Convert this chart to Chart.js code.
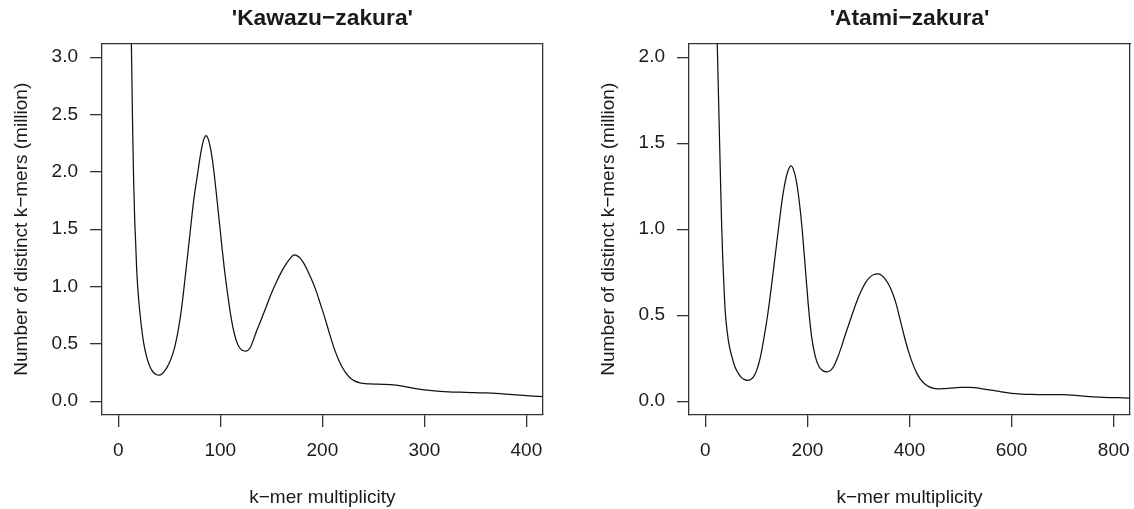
<!DOCTYPE html>
<html><head><meta charset="utf-8">
<script src="https://cdn.jsdelivr.net/npm/chart.js@4"></script>
<style>
html,body{margin:0;padding:0;background:#fff;width:1134px;height:509px;overflow:hidden}
.p{position:absolute;top:0;width:567px;height:509px}
</style></head>
<body>
<div class="p" style="left:0"><canvas id="c1" width="567" height="509"></canvas></div>
<div class="p" style="left:567px"><canvas id="c2" width="567" height="509"></canvas></div>
<script>
// 'Kawazu-zakura' k-mer spectrum (values in million)
const kawazuX = [12,13,14,15,16,17,18,19,20,22,25,28,31,34,37,40,43,46,48,50,52,54,56,58,60,62,64,66,68,70,74,78,80,82,84,86,88,90,92,94,96,98,100,102,104,106,108,110,112,114,116,118,120,122,125,128,130,132,135,140,145,150,155,160,165,169,172,175,178,182,186,190,194,198,202,207,212,217,222,227,232,237,242,250,260,270,280,290,300,310,320,330,340,350,360,370,380,390,400,410,416];
const kawazuY = [3.6,3.0,2.4,1.93,1.6,1.38,1.15,1.0,0.88,0.7,0.5,0.38,0.3,0.255,0.233,0.227,0.24,0.272,0.3,0.335,0.378,0.43,0.5,0.585,0.69,0.81,0.96,1.12,1.28,1.44,1.76,2.0,2.12,2.22,2.29,2.316,2.29,2.22,2.12,1.98,1.82,1.65,1.48,1.31,1.15,1.01,0.88,0.76,0.66,0.58,0.52,0.48,0.455,0.442,0.437,0.452,0.48,0.525,0.6,0.71,0.825,0.94,1.04,1.13,1.205,1.25,1.276,1.27,1.25,1.2,1.13,1.05,0.96,0.85,0.74,0.59,0.45,0.34,0.26,0.205,0.175,0.16,0.153,0.15,0.148,0.143,0.13,0.113,0.1,0.09,0.083,0.08,0.078,0.075,0.072,0.068,0.062,0.055,0.048,0.043,0.04];
// 'Atami-zakura' k-mer spectrum (values in million)
const atamiX = [22,24,26,28,30,32,34,36,39,43,47,52,58,64,70,76,82,88,94,100,108,115,122,130,137,144,150,156,162,168,174,180,186,190,196,202,208,215,222,230,238,245,252,258,266,274,282,290,298,306,314,322,330,338,345,352,359,366,374,382,390,398,406,414,422,430,438,446,455,465,480,500,520,540,560,580,600,620,640,660,680,700,720,740,760,780,800,820,833];
const atamiY = [2.25,2.0,1.75,1.5,1.25,1.02,0.84,0.7,0.52,0.4,0.32,0.26,0.2,0.165,0.14,0.127,0.122,0.125,0.14,0.175,0.258,0.37,0.5,0.68,0.85,1.02,1.16,1.27,1.34,1.369,1.335,1.25,1.11,0.99,0.77,0.55,0.38,0.265,0.205,0.178,0.171,0.178,0.205,0.245,0.31,0.385,0.455,0.525,0.59,0.645,0.69,0.72,0.737,0.74,0.733,0.712,0.68,0.635,0.565,0.47,0.375,0.29,0.22,0.165,0.125,0.1,0.085,0.076,0.072,0.073,0.076,0.08,0.08,0.074,0.065,0.054,0.046,0.042,0.04,0.039,0.039,0.038,0.035,0.03,0.026,0.023,0.021,0.019,0.018];

const kawazuXTicks = [0,100,200,300,400];
const kawazuYTicks = [0,0.5,1,1.5,2,2.5,3];
const atamiXTicks = [0,200,400,600,800];
const atamiYTicks = [0,0.5,1,1.5,2];

const TXT = '#1a1a1a';
const FAM = '"Liberation Sans", Arial, Helvetica, sans-serif';

function makeChart(id, title, xs, ys, xTicks, yTicks, xr, yr, leftW, rightW, yTitlePad) {
  const pts = xs.map((x, i) => ({x: x, y: ys[i]}));
  const noPad = s => { s.paddingLeft = 0; s.paddingRight = 0; s.paddingTop = 0; s.paddingBottom = 0; };
  new Chart(document.getElementById(id), {
    type: 'line',
    data: { datasets: [{ data: pts, borderColor: '#111', borderWidth: 1.25, pointRadius: 0, fill: false, cubicInterpolationMode: 'monotone' }] },
    options: {
      responsive: false, animation: false, devicePixelRatio: 1,
      layout: { padding: 0 },
      plugins: {
        legend: { display: false }, tooltip: { enabled: false },
        title: { display: true, text: title, fullSize: false, color: TXT,
          font: { family: FAM, size: 22.8, weight: 'bold', lineHeight: 1.2 },
          padding: { top: 5.3, bottom: 10.8 } }
      },
      scales: {
        x: { type: 'linear', position: 'bottom', min: xr[0], max: xr[1],
          afterBuildTicks: s => { s.ticks = xTicks.map(v => ({value: v})); },
          afterFit: s => { s.height = 94; noPad(s); },
          grid: { display: true, drawOnChartArea: false, drawTicks: true, tickLength: 12, color: '#333', lineWidth: 1.3 },
          border: { display: true, color: '#333', width: 1.3 },
          ticks: { color: TXT, font: { family: FAM, size: 19 }, padding: 12, maxRotation: 0, autoSkip: false, callback: v => String(v) },
          title: { display: true, text: 'k\u2212mer multiplicity', color: TXT, font: { family: FAM, size: 19 }, padding: { top: 0, bottom: 0 } }
        },
        x2: { type: 'linear', position: 'top', min: xr[0], max: xr[1],
          afterFit: s => { s.height = 0; noPad(s); },
          grid: { display: false }, ticks: { display: false },
          border: { display: true, color: '#333', width: 1.3 } },
        y: { type: 'linear', position: 'left', min: yr[0], max: yr[1],
          afterBuildTicks: s => { s.ticks = yTicks.map(v => ({value: v})); },
          afterFit: s => { s.width = leftW; noPad(s); },
          grid: { display: true, drawOnChartArea: false, drawTicks: true, tickLength: 12, color: '#333', lineWidth: 1.3 },
          border: { display: true, color: '#333', width: 1.3 },
          ticks: { color: TXT, font: { family: FAM, size: 19 }, padding: 12, autoSkip: false, callback: v => Number(v).toFixed(1) },
          title: { display: true, text: 'Number of distinct k\u2212mers (million)', color: TXT, font: { family: FAM, size: 19 }, padding: { top: yTitlePad, bottom: 0 } }
        },
        y2: { type: 'linear', position: 'right', min: yr[0], max: yr[1],
          afterFit: s => { s.width = rightW; noPad(s); },
          grid: { display: false }, ticks: { display: false },
          border: { display: true, color: '#333', width: 1.3 } }
      }
    }
  });
}

makeChart('c1', "'Kawazu\u2212zakura'", kawazuX, kawazuY, kawazuXTicks, kawazuYTicks, [-16, 416], [-0.12, 3.12], 102, 24.3, 10);
makeChart('c2', "'Atami\u2212zakura'", atamiX, atamiY, atamiXTicks, atamiYTicks, [-32, 832], [-0.08, 2.08], 122, 4, 30);
</script>
</body></html>
